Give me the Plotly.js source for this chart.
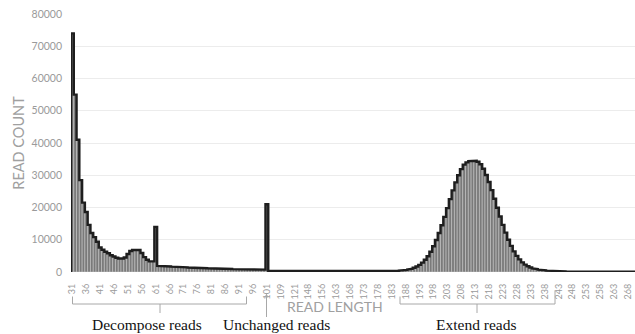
<!DOCTYPE html>
<html>
<head>
<meta charset="utf-8">
<script src="https://cdn.plot.ly/plotly-3.0.1.min.js"></script>
<style>html,body{margin:0;padding:0;background:#fff;}#chart{width:635px;height:334px;}</style>
</head>
<body>
<div id="chart"></div>
<script>
// Read lengths (categories) — only lengths present in the data
const lengths = [
  31,32,33,34,35,36,37,38,39,40,41,42,43,44,45,46,47,48,49,50,
  51,52,53,54,55,56,57,58,59,60,61,62,63,64,65,66,67,68,69,70,
  71,72,73,74,75,76,77,78,79,80,81,82,83,84,85,86,87,88,89,90,
  91,92,93,94,95,96,97,98,99,100,101,
  102,104,106,107,109,111,113,116,118,121,125,130,136,142,148,
  150,151,153,155,156,157,159,160,162,163,164,165,166,167,
  168,169,170,171,172,173,174,175,176,177,178,179,180,181,182,
  183,184,185,186,187,188,189,190,191,192,193,194,195,196,197,
  198,199,200,201,202,203,204,205,206,207,208,209,210,211,212,
  213,214,215,216,217,218,219,220,221,222,223,224,225,226,227,
  228,229,230,231,232,233,234,235,236,237,238,239,240,241,242,
  243,244,245,246,247,248,249,250,251,252,253,254,255,256,257,
  258,259,260,261,262,263,264,265,266,267,268,269,270
];

// Read counts, segment by segment
const decomposeCounts = [ // 31..61
  74000,55000,41000,28500,21500,18600,14600,12100,10800,9400,
  7600,6900,6300,5800,5200,4800,4400,4200,4200,4500,
  5600,6500,6800,6900,6800,5900,4600,3800,3300,3300,14000
];
const shortTailCounts = [ // 62..100
  1900,1850,1800,1750,1700,1650,1600,1560,1520,1480,
  1440,1400,1360,1320,1280,1240,1200,1170,1140,1110,
  1080,1050,1020,990,960,940,920,900,880,860,
  840,820,800,790,780,770,760,750,740
];
const unchangedCounts = [21000]; // 101
const gapCounts = [ // 102..182
  350,330,320,310,300,290,280,270,260,250,240,230,220,210,200,
  200,195,190,185,180,180,175,170,170,165,165,160,160,160,
  160,165,170,175,180,185,190,195,200,205,210,215,220,230,240
];
const extendCounts = [ // 183..250
  250,300,350,420,500,620,780,1000,1300,1700,
  2200,2900,3800,4900,6300,8000,9900,12100,14500,17100,
  19800,22600,25300,27800,30000,31900,33300,34000,34400,34600,
  34500,34200,33400,32000,30100,27900,25400,22700,19900,17200,
  14600,12200,10000,8100,6400,5000,3900,3000,2300,1800,
  1400,1100,900,750,620,520,440,380,330,290,
  260,230,210,190,170,160,150,140
];
const longTailCounts = [ // 251..270
  130,125,120,115,110,105,100,98,96,94,92,90,88,86,84,82,80,78,76,74
];

const counts = [].concat(decomposeCounts, shortTailCounts, unchangedCounts,
                         gapCounts, extendCounts, longTailCounts);

const idx = lengths.map((_, i) => i);
const tickIdx = idx.filter(i => i % 5 === 0);
const tickText = tickIdx.map(i => String(lengths[i]));

// Step outline derived from the counts
const ox = [-0.5], oy = [0];
counts.forEach((v, i) => { ox.push(i - 0.5, i + 0.5); oy.push(v, v); });
ox.push(counts.length - 0.5); oy.push(0);

// pixel helpers for decorations below the axis
const L = 71, T = 14, R = 635, B = 272;
const px = x => (x - L) / (R - L);
const py = y => (B - y) / (B - T);
const braceColor = '#a8a8a8';
const serif = '"Liberation Serif", "Times New Roman", serif';

const data = [
  {type: 'bar', x: idx, y: counts, width: 1,
   marker: {color: '#7a7a7a', line: {color: '#c4c4c4', width: 0.6}},
   hoverinfo: 'skip'},
  {type: 'scatter', mode: 'lines', x: ox, y: oy,
   line: {color: '#1e1e1e', width: 2.4}, hoverinfo: 'skip'}
];

const layout = {
  width: 635, height: 334,
  margin: {l: L, r: 0, t: T, b: 334 - B},
  paper_bgcolor: '#fff', plot_bgcolor: '#fff',
  showlegend: false,
  bargap: 0,
  font: {family: 'Lato, sans-serif', color: '#9a9a9a'},
  xaxis: {
    range: [-0.5, counts.length - 0.5],
    tickmode: 'array', tickvals: tickIdx, ticktext: tickText,
    tickangle: -90, tickfont: {size: 9, color: '#9a9a9a'},
    showgrid: false, zeroline: false, showline: false, ticks: '',
    ticklabelstandoff: 9
  },
  yaxis: {
    range: [0, 80000], dtick: 10000, tickformat: 'd',
    tickfont: {size: 10.5, color: '#9a9a9a'},
    showgrid: true, gridcolor: '#ececec', gridwidth: 1,
    zeroline: false, showline: false, ticks: '',
    ticklabelstandoff: 8,
    title: {text: 'READ COUNT', font: {size: 14.5, color: '#a0a0a0'}, standoff: 3}
  },
  shapes: [
    {type: 'path', xref: 'paper', yref: 'paper',
     path: `M ${px(72.5)},${py(296.5)} L ${px(72.5)},${py(304)} L ${px(246.5)},${py(304)} L ${px(246.5)},${py(296.5)}`,
     line: {color: braceColor, width: 1}},
    {type: 'line', xref: 'paper', yref: 'paper', x0: px(160), x1: px(160), y0: py(304), y1: py(313),
     line: {color: braceColor, width: 1}},
    {type: 'path', xref: 'paper', yref: 'paper',
     path: `M ${px(400)},${py(296.5)} L ${px(400)},${py(304)} L ${px(555)},${py(304)} L ${px(555)},${py(290.5)}`,
     line: {color: braceColor, width: 1}},
    {type: 'line', xref: 'paper', yref: 'paper', x0: px(477), x1: px(477), y0: py(304), y1: py(313),
     line: {color: braceColor, width: 1}}
  ],
  annotations: [
    {xref: 'paper', yref: 'paper', x: px(335), y: py(306), text: 'READ LENGTH', showarrow: false,
     xanchor: 'center', yanchor: 'middle', font: {family: 'Lato, sans-serif', size: 14, color: '#a0a0a0'}},
    {xref: 'paper', yref: 'paper', x: px(266.5), y: py(293.5), text: '', showarrow: true,
     ax: 0, ay: 25, arrowhead: 2, arrowsize: 0.8, arrowwidth: 1, arrowcolor: braceColor},
    {xref: 'paper', yref: 'paper', x: px(147), y: py(324), text: 'Decompose reads', showarrow: false,
     xanchor: 'center', yanchor: 'middle', font: {family: serif, size: 15.5, color: '#111'}},
    {xref: 'paper', yref: 'paper', x: px(276), y: py(324), text: 'Unchanged reads', showarrow: false,
     xanchor: 'center', yanchor: 'middle', font: {family: serif, size: 15.5, color: '#111'}},
    {xref: 'paper', yref: 'paper', x: px(476), y: py(324), text: 'Extend reads', showarrow: false,
     xanchor: 'center', yanchor: 'middle', font: {family: serif, size: 15.5, color: '#111'}}
  ]
};

Plotly.newPlot('chart', data, layout, {staticPlot: true, displayModeBar: false});
</script>
</body>
</html>
